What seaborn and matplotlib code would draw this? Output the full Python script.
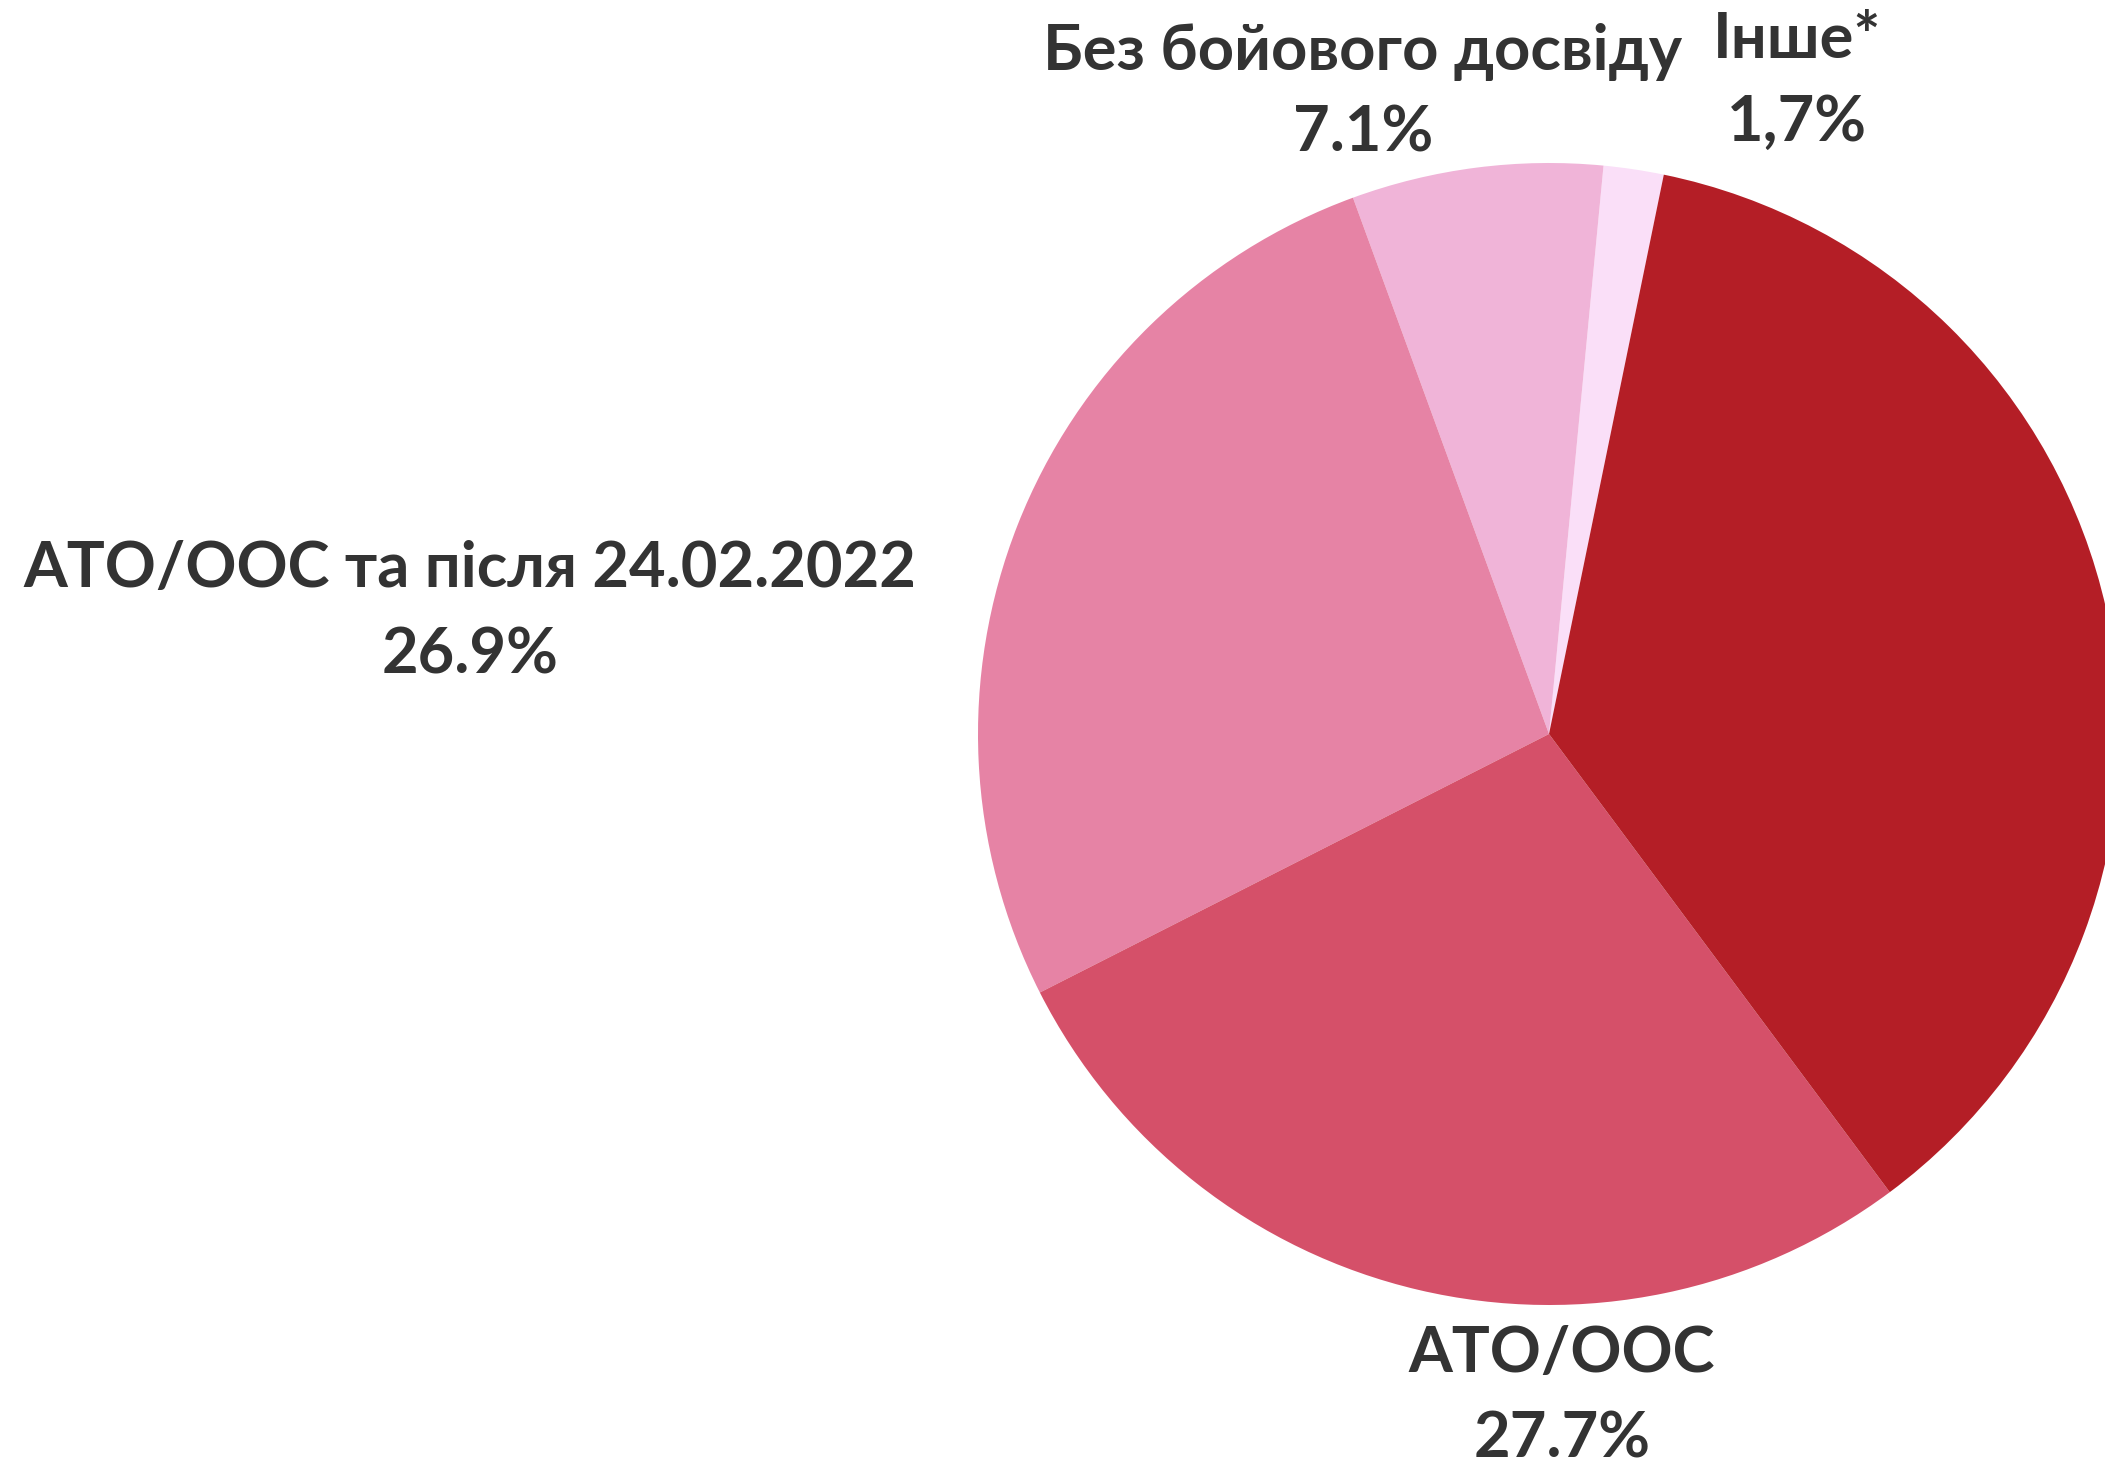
import matplotlib
matplotlib.use("Agg")
import matplotlib.pyplot as plt
import seaborn as sns

# data (counterclockwise from the top-right slice)
categories = ["Інше*", "Без бойового досвіду", "АТО/ООС та після 24.02.2022", "АТО/ООС", ""]
values = [1.7, 7.1, 26.9, 27.7, 36.6]
pct_labels = ["1,7%", "7.1%", "26.9%", "27.7%", ""]
colors = ["#FADFF8", "#F0B4D8", "#E683A5", "#D55069", "#B41E26"]

sns.set_theme(style="white")
plt.rcParams["font.family"] = ["Lato", "Open Sans", "DejaVu Sans"]

W, H = 2105, 1464
fig = plt.figure(figsize=(W / 100, H / 100), dpi=100)
ax = fig.add_axes([0, 0, 1, 1])

# pie centre / radius in pixels, data units = radius
cx, cy, r = 1549, 734, 571

ax.pie(values, colors=colors, startangle=78.4, counterclock=True,
       radius=1, center=(0, 0), frame=True,
       wedgeprops=dict(linewidth=0, antialiased=True))
ax.set_xlim(-cx / r, (W - cx) / r)
ax.set_ylim(-(H - cy) / r, cy / r)
ax.set_aspect("auto")
ax.axis("off")

# label anchors (pixel x centre, baseline of name, baseline of percent)
label_pos = {
    "Інше*": (1797, 58, 141),
    "Без бойового досвіду": (1363, 70, 152),
    "АТО/ООС та після 24.02.2022": (470, 587, 674),
    "АТО/ООС": (1562, 1372, 1457),
}

txt_kw = dict(ha="center", va="baseline", fontsize=45.5, fontweight="bold",
              color="#333333", transform=fig.transFigure)
for name, pct in zip(categories, pct_labels):
    if not name:
        continue
    x, y1, y2 = label_pos[name]
    fig.text(x / W, 1 - y1 / H, name, **txt_kw)
    fig.text(x / W, 1 - y2 / H, pct, **txt_kw)

fig.savefig("out.png", dpi=100, facecolor="white")
